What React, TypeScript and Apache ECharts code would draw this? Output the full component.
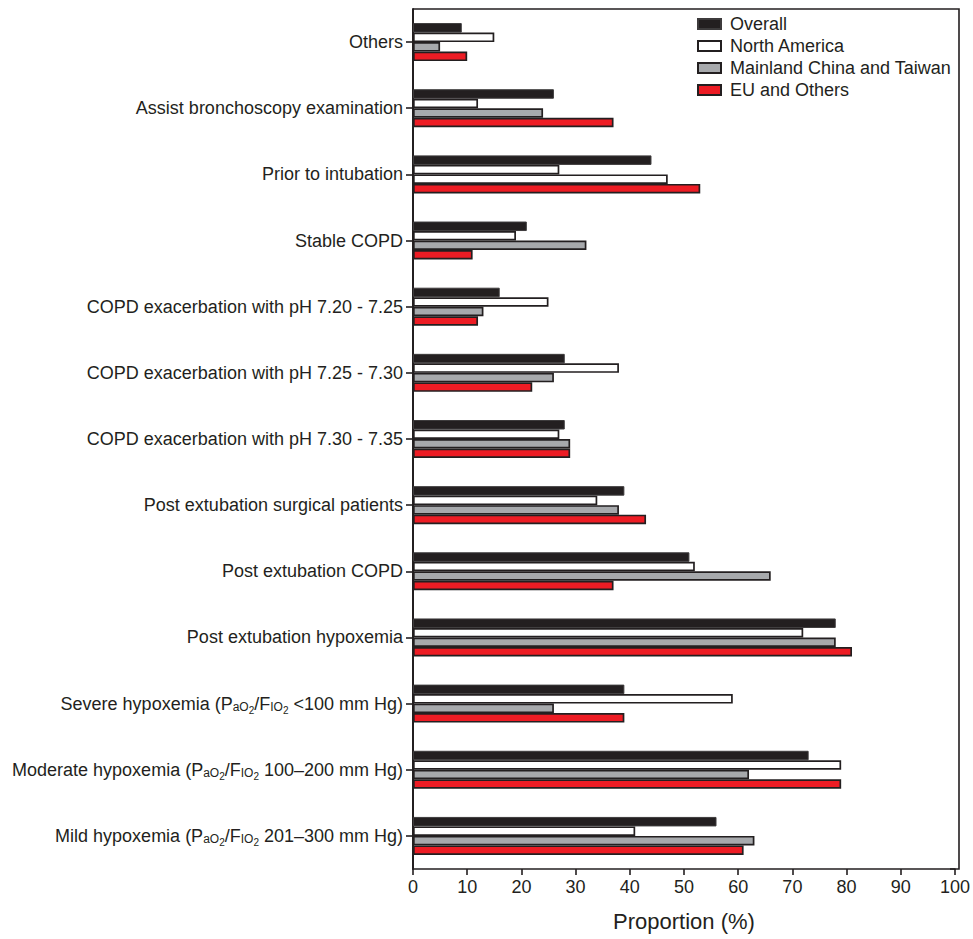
import React, { useEffect, useRef } from "react";
import * as echarts from "echarts";

const categories = [
  "Others",
  "Assist bronchoscopy examination",
  "Prior to intubation",
  "Stable COPD",
  "COPD exacerbation with pH 7.20 - 7.25",
  "COPD exacerbation with pH 7.25 - 7.30",
  "COPD exacerbation with pH 7.30 - 7.35",
  "Post extubation surgical patients",
  "Post extubation COPD",
  "Post extubation hypoxemia",
  "Severe hypoxemia (PaO2/FIO2 <100 mm Hg)",
  "Moderate hypoxemia (PaO2/FIO2 100–200 mm Hg)",
  "Mild hypoxemia (PaO2/FIO2 201–300 mm Hg)",
];

const seriesNames = ["Overall", "North America", "Mainland China and Taiwan", "EU and Others"];

const overall = [9, 26, 44, 21, 16, 28, 28, 39, 51, 78, 39, 73, 56];
const northAmerica = [15, 12, 27, 19, 25, 38, 27, 34, 52, 72, 59, 79, 41];
const chinaTaiwan = [5, 24, 47, 32, 13, 26, 29, 38, 66, 78, 26, 62, 63];
const euOthers = [10, 37, 53, 11, 12, 22, 29, 43, 37, 81, 39, 79, 61];

const xTicks = [0, 10, 20, 30, 40, 50, 60, 70, 80, 90, 100];

// In the reference, the "Mainland China and Taiwan" bar of "Prior to intubation" is drawn white
const whiteChinaIndex = 2;

const FONT = "'Liberation Sans', Arial, Helvetica, sans-serif";
const INK = "#231f20";

export default function App() {
  const ref = useRef<HTMLDivElement>(null);

  useEffect(() => {
    document.body.style.margin = "0";
    if (!ref.current) return;
    const chart = echarts.init(ref.current, undefined, { renderer: "svg" });

    const barBase = { type: "bar", barWidth: 9.5, barGap: "0%", barCategoryGap: "43%" };

    const option: any = {
      animation: false,
      backgroundColor: "#ffffff",
      textStyle: { fontFamily: FONT, color: INK },
      grid: { left: 413, right: 16, top: 9, bottom: 70, containLabel: false },
      legend: {
        orient: "vertical",
        left: 697,
        top: 15,
        padding: 0,
        itemWidth: 23,
        itemHeight: 10,
        itemGap: 4,
        icon: "rect",
        data: seriesNames,
        textStyle: { fontFamily: FONT, fontSize: 18, color: INK, padding: [0, 0, 0, 4] },
      },
      xAxis: {
        type: "value",
        min: xTicks[0],
        max: xTicks[xTicks.length - 1],
        interval: 10,
        name: "Proportion (%)",
        nameLocation: "middle",
        nameGap: 41,
        nameTextStyle: { fontFamily: FONT, fontSize: 22, color: INK },
        axisLine: { show: true, lineStyle: { color: INK, width: 1.6 } },
        axisTick: { show: true, length: 6, inside: false, lineStyle: { color: INK, width: 1.6 } },
        axisLabel: { fontFamily: FONT, fontSize: 18, color: INK, margin: 9 },
        splitLine: { show: false },
      },
      yAxis: {
        type: "category",
        data: categories,
        inverse: true,
        axisLine: { show: true, lineStyle: { color: INK, width: 2 } },
        axisTick: { show: true, length: 7, alignWithLabel: true, lineStyle: { color: INK, width: 1.6 } },
        axisLabel: {
          fontFamily: FONT,
          fontSize: 18,
          color: INK,
          margin: 10,
          interval: 0,
          formatter: (v: string) =>
            v.replace("PaO2/FIO2", "P{s|aO}{ss|2}/F{s|IO}{ss|2}"),
          rich: {
            s: { fontFamily: FONT, fontSize: 12, color: INK, padding: [6, 0, 0, 0] },
            ss: { fontFamily: FONT, fontSize: 10, color: INK, padding: [14, 0, 0, 0] },
          },
        },
      },
      series: [
        {
          ...barBase,
          name: seriesNames[0],
          data: overall,
          itemStyle: { color: INK, borderColor: "#3d3b3c", borderWidth: 1 },
        },
        {
          ...barBase,
          name: seriesNames[1],
          data: northAmerica,
          itemStyle: { color: "#ffffff", borderColor: INK, borderWidth: 1.7 },
        },
        {
          ...barBase,
          name: seriesNames[2],
          data: chinaTaiwan.map((v, i) =>
            i === whiteChinaIndex ? { value: v, itemStyle: { color: "#ffffff" } } : v
          ),
          itemStyle: { color: "#a7a9ac", borderColor: INK, borderWidth: 1.7 },
        },
        {
          ...barBase,
          name: seriesNames[3],
          data: euOthers,
          itemStyle: { color: "#ed1c24", borderColor: INK, borderWidth: 1.7 },
        },
      ],
      graphic: [
        {
          type: "polyline",
          shape: { points: [[413, 9], [959, 9], [959, 869], [950, 869]] },
          style: { stroke: INK, lineWidth: 1.6, fill: "none" },
          silent: true,
        },
      ],
    };

    chart.setOption(option);
    return () => chart.dispose();
  }, []);

  return <div ref={ref} style={{ width: 973, height: 939 }} />;
}
